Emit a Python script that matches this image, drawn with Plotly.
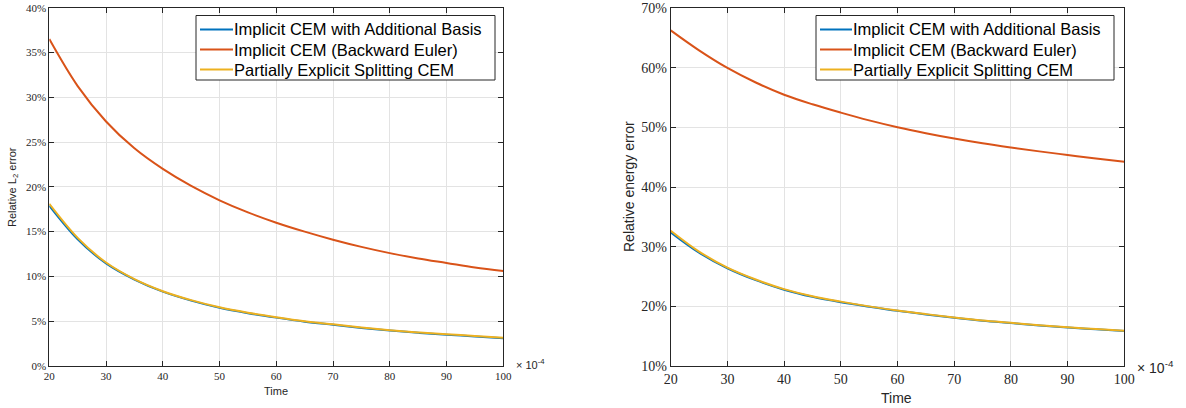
import plotly.graph_objects as go

W, H = 1186, 408

time = [20, 25, 30, 35, 40, 45, 50, 55, 60, 65, 70, 75, 80, 85, 90, 95, 100]

l2_additional = [17.9, 14.15, 11.45, 9.65, 8.3, 7.3, 6.5, 5.9, 5.4, 4.95, 4.6, 4.25, 3.95, 3.7, 3.5, 3.3, 3.1]
l2_backward = [36.5, 31.25, 27.3, 24.3, 22.0, 20.1, 18.5, 17.15, 16.0, 15.0, 14.1, 13.3, 12.6, 12.0, 11.5, 11.0, 10.6]
l2_splitting = [18.1, 14.3, 11.55, 9.7, 8.35, 7.35, 6.55, 5.95, 5.45, 5.0, 4.65, 4.3, 4.0, 3.75, 3.55, 3.35, 3.15]

en_additional = [32.4, 29.0, 26.4, 24.4, 22.8, 21.6, 20.7, 19.95, 19.25, 18.65, 18.1, 17.6, 17.2, 16.8, 16.45, 16.15, 15.85]
en_backward = [66.3, 62.95, 60.0, 57.55, 55.5, 53.9, 52.5, 51.2, 50.05, 49.05, 48.15, 47.35, 46.65, 46.0, 45.4, 44.8, 44.25]
en_splitting = [32.7, 29.2, 26.5, 24.5, 22.9, 21.7, 20.8, 20.0, 19.3, 18.7, 18.15, 17.65, 17.25, 16.85, 16.5, 16.2, 15.9]

names = ["Implicit CEM with Additional Basis", "Implicit CEM (Backward Euler)", "Partially Explicit Splitting CEM"]
colors = ["#0072BD", "#D95319", "#EDB120"]

x_ticks = [20, 30, 40, 50, 60, 70, 80, 90, 100]
l2_ticks = [0, 5, 10, 15, 20, 25, 30, 35, 40]
en_ticks = [10, 20, 30, 40, 50, 60, 70]

fig = go.Figure()

def add_series(ys, xa, ya):
    for name, color, y in zip(names, colors, ys):
        fig.add_trace(go.Scatter(
            x=time, y=y, mode="lines", name=name, showlegend=False,
            line=dict(color=color, width=2, shape="spline", smoothing=1.0),
            xaxis=xa, yaxis=ya,
        ))

add_series([l2_additional, l2_backward, l2_splitting], "x", "y")
add_series([en_additional, en_backward, en_splitting], "x2", "y2")

def px_x(p):
    return p / W

def px_y(p):
    return 1 - p / H

def axis(size, **kw):
    d = dict(
        showline=True, linecolor="#262626", linewidth=1, mirror="ticks",
        ticks="inside", ticklen=5, tickcolor="#262626",
        showgrid=True, gridcolor="#e3e3e3", gridwidth=1,
        zeroline=False, automargin=False,
        tickfont=dict(family="Liberation Serif", size=size, color="#262626"),
    )
    d.update(kw)
    return d

fig.update_layout(
    width=W, height=H, autosize=False,
    margin=dict(l=0, r=0, t=0, b=0),
    paper_bgcolor="white", plot_bgcolor="white",
    showlegend=False,
    xaxis=axis(11, domain=[px_x(49.3), px_x(503.3)], range=[20, 100], tickmode="array",
               tickvals=x_ticks, ticktext=[str(v) for v in x_ticks], anchor="y"),
    yaxis=axis(11, domain=[px_y(366), px_y(7.7)], range=[0, 40], tickmode="array",
               tickvals=l2_ticks, ticktext=[f"{v}%" for v in l2_ticks], anchor="x"),
    xaxis2=axis(14, domain=[px_x(670.7), px_x(1124.3)], range=[20, 100], tickmode="array",
                tickvals=x_ticks, ticktext=[str(v) for v in x_ticks], anchor="y2"),
    yaxis2=axis(14, domain=[px_y(366), px_y(8.3)], range=[10, 70], tickmode="array",
                tickvals=en_ticks, ticktext=[f"{v}%" for v in en_ticks], anchor="x2"),
)

# Manual legends (MATLAB-style boxes)
def add_legend(box_l, box_r, box_t, box_b, line_l, line_r, text_x, rows_y):
    fig.add_shape(type="rect", xref="paper", yref="paper",
                  x0=px_x(box_l), x1=px_x(box_r), y0=px_y(box_b), y1=px_y(box_t),
                  line=dict(color="#262626", width=1), fillcolor="white", layer="above")
    for name, color, ry in zip(names, colors, rows_y):
        fig.add_shape(type="line", xref="paper", yref="paper",
                      x0=px_x(line_l), x1=px_x(line_r), y0=px_y(ry), y1=px_y(ry),
                      line=dict(color=color, width=2), layer="above")
        fig.add_annotation(xref="paper", yref="paper", showarrow=False,
                           x=px_x(text_x), y=px_y(ry), xanchor="left", yanchor="middle",
                           text=name, font=dict(family="Liberation Sans", size=16.5, color="black"))

add_legend(196, 495, 15.5, 80, 200, 233, 232, [29.5, 49.5, 69.5])
add_legend(816, 1114, 15.5, 80, 820, 852, 851, [29.5, 49.5, 69.5])

annos = [
    dict(text="Relative L<sub>2</sub> error", x=px_x(13), y=px_y(187), textangle=-90,
         font=dict(family="Liberation Sans", size=11, color="#262626")),
    dict(text="Time", x=px_x(276), y=px_y(391), font=dict(family="Liberation Sans", size=11, color="#262626")),
    dict(text="× 10<sup>-4</sup>", x=px_x(530), y=px_y(364), font=dict(family="Liberation Sans", size=11, color="#262626")),
    dict(text="Relative energy error", x=px_x(629), y=px_y(187), textangle=-90,
         font=dict(family="Liberation Sans", size=14, color="#262626")),
    dict(text="Time", x=px_x(897), y=px_y(398), font=dict(family="Liberation Sans", size=14, color="#262626")),
    dict(text="× 10<sup>-4</sup>", x=px_x(1155), y=px_y(367), font=dict(family="Liberation Sans", size=14, color="#262626")),
]
for a in annos:
    fig.add_annotation(xref="paper", yref="paper", showarrow=False, xanchor="center", yanchor="middle", **a)

fig.write_html("out.html")
